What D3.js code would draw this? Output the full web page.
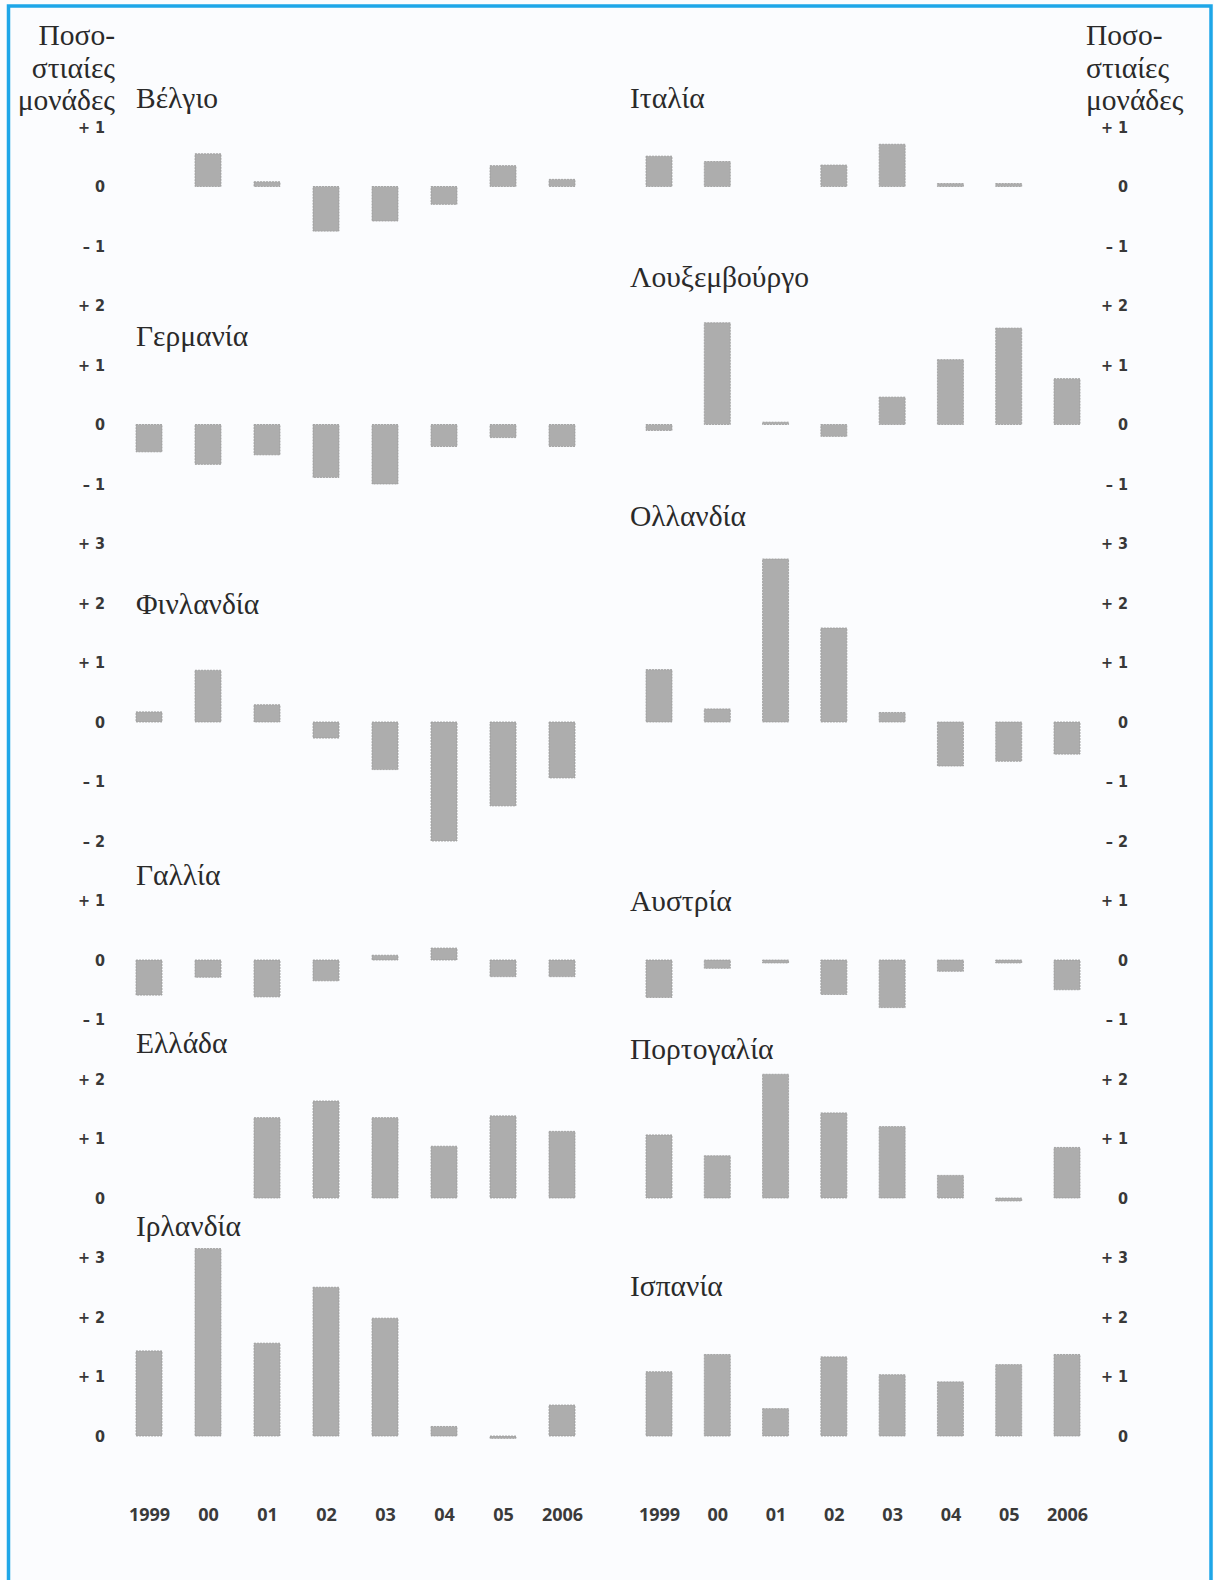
<!DOCTYPE html>
<html>
<head>
<meta charset="utf-8">
<script src="https://cdn.jsdelivr.net/npm/d3@7"></script>
<style>
  body { margin: 0; background: #fbfcfe; }
  .title { font-family: "Liberation Serif", "DejaVu Serif", serif; font-size: 29.5px; fill: #2a2a2a; }
  .unit { font-family: "Liberation Serif", "DejaVu Serif", serif; font-size: 29.5px; fill: #2a2a2a; }
  .tick text { font-family: "DejaVu Sans Condensed", "Liberation Sans Narrow", sans-serif; font-weight: bold; font-size: 16px; fill: #383838; }
  .years .tick text { font-family: "Open Sans", sans-serif; font-weight: 700; font-size: 18px; fill: #3a3a3a; }
</style>
</head>
<body>
<script>
const width = 1214, height = 1580;

// x categories
const years = ["1999", "00", "01", "02", "03", "04", "05", "2006"];

// values (percentage points)
const belgio = [0, 0.55, 0.08, -0.75, -0.58, -0.3, 0.35, 0.12];
const germania = [-0.46, -0.67, -0.51, -0.89, -1.0, -0.37, -0.22, -0.37];
const finlandia = [0.17, 0.87, 0.29, -0.27, -0.8, -2.0, -1.41, -0.94];
const gallia = [-0.59, -0.29, -0.62, -0.35, 0.08, 0.2, -0.28, -0.28];
const ellada = [0, 0, 1.35, 1.63, 1.35, 0.87, 1.38, 1.12];
const irlandia = [1.43, 3.15, 1.56, 2.5, 1.98, 0.16, -0.04, 0.52];

const italia = [0.51, 0.42, 0, 0.36, 0.71, 0.05, 0.05, 0];
const luxemvourgo = [-0.1, 1.71, 0.04, -0.2, 0.46, 1.09, 1.62, 0.77];
const ollandia = [0.88, 0.22, 2.74, 1.58, 0.16, -0.74, -0.66, -0.54];
const afstria = [-0.63, -0.14, -0.05, -0.58, -0.8, -0.19, -0.05, -0.5];
const portogalia = [1.06, 0.71, 2.08, 1.43, 1.2, 0.38, -0.05, 0.85];
const ispania = [1.08, 1.37, 0.46, 1.33, 1.03, 0.91, 1.2, 1.37];

// tick label ranges for each panel [top, bottom]
const tickRanges = [[1, -1], [2, -1], [3, -2], [1, -1], [2, 0], [3, 0]];

const leftNames = ["Βέλγιο", "Γερμανία", "Φινλανδία", "Γαλλία", "Ελλάδα", "Ιρλανδία"];
const rightNames = ["Ιταλία", "Λουξεμβούργο", "Ολλανδία", "Αυστρία", "Πορτογαλία", "Ισπανία"];
const leftValues = [belgio, germania, finlandia, gallia, ellada, irlandia];
const rightValues = [italia, luxemvourgo, ollandia, afstria, portogalia, ispania];

const unitLines = ["Ποσο-", "στιαίες", "μονάδες"];

// layout
const unit = 59.5, firstTick = 127;
const leftTitleY = [108, 346, 614, 885, 1053, 1236];
const rightTitleY = [108, 287, 526, 911, 1059, 1296];
const barW = 26;

const svg = d3.select("body").append("svg")
  .attr("width", width)
  .attr("height", height);

svg.append("rect")
  .attr("x", 8.5).attr("y", 6)
  .attr("width", 1202.5).attr("height", height + 20)
  .attr("fill", "none")
  .attr("stroke", "#1ea6e8")
  .attr("stroke-width", 3.5);

const xLeft = d3.scalePoint().domain(years).range([149, 562]);
const xRight = d3.scalePoint().domain(years).range([659, 1067]);

function column(names, values, x, axisX, titleX, titleY) {
  let idx = 0;
  names.forEach((name, p) => {
    const [hi, lo] = tickRanges[p];
    const top = firstTick + idx * unit;
    const y = d3.scaleLinear().domain([hi, lo]).range([top, top + (hi - lo) * unit]);
    idx += hi - lo + 1;

    const g = svg.append("g");

    g.append("g")
      .attr("transform", "translate(" + axisX + ",0)")
      .call(d3.axisLeft(y)
        .tickValues(d3.range(lo, hi + 1))
        .tickSize(0)
        .tickPadding(0)
        .tickFormat(d => d > 0 ? "+ " + d : d < 0 ? "\u2013 " + (-d) : "0"))
      .call(a => a.select(".domain").remove());

    g.append("text")
      .attr("class", "title")
      .attr("x", titleX)
      .attr("y", titleY[p])
      .text(name);

    g.selectAll("rect.bar")
      .data(values[p].map((v, i) => ({ year: years[i], v: v })).filter(d => d.v !== 0))
      .join("rect")
      .attr("class", "bar")
      .attr("x", d => x(d.year) - barW / 2)
      .attr("y", d => Math.min(y(d.v), y(0)))
      .attr("width", barW)
      .attr("height", d => Math.abs(y(d.v) - y(0)))
      .attr("fill", "#adadad")
      .attr("stroke", "#9b9b9b")
      .attr("stroke-width", 0.8)
      .attr("stroke-dasharray", "2,1");
  });

  svg.append("g")
    .attr("class", "years")
    .attr("transform", "translate(0,1508)")
    .call(d3.axisBottom(x).tickSize(0).tickPadding(0))
    .call(a => a.select(".domain").remove());
}

column(leftNames, leftValues, xLeft, 105, 136, leftTitleY);
column(rightNames, rightValues, xRight, 1128, 630, rightTitleY);

// unit labels top left / top right
svg.append("g").selectAll("text")
  .data(unitLines)
  .join("text")
  .attr("class", "unit")
  .attr("x", 115)
  .attr("y", (d, i) => 45 + i * 32.5)
  .attr("text-anchor", "end")
  .text(d => d);

svg.append("g").selectAll("text")
  .data(unitLines)
  .join("text")
  .attr("class", "unit")
  .attr("x", 1086)
  .attr("y", (d, i) => 45 + i * 32.5)
  .text(d => d);
</script>
</body>
</html>
